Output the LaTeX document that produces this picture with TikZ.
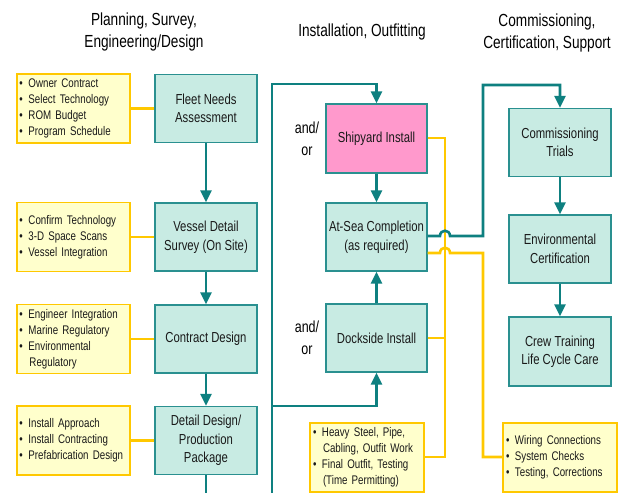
\documentclass[tikz,border=0pt]{standalone}
\usepackage{fontspec}
\setmainfont[FakeStretch=0.78]{Liberation Sans}
\usetikzlibrary{arrows.meta}
\definecolor{tealline}{HTML}{0E8080}
\definecolor{tealfill}{HTML}{C8EBE3}
\definecolor{tealborder}{HTML}{2A9090}
\definecolor{pinkfill}{HTML}{FF99CC}
\definecolor{yelfill}{HTML}{FFFFCC}
\definecolor{yelline}{HTML}{FFC800}
\newcommand{\bitem}[1]{\makebox[9pt][l]{\textbullet}#1}
\newcommand{\bcont}[1]{\hspace*{10pt}#1}
\tikzset{
  x=1pt,y=-1pt,
  stage/.style={draw=tealborder,line width=1.3pt,fill=tealfill,minimum width=102pt,minimum height=68pt,align=center,inner sep=2pt,font=\fontsize{14.5}{18.5}\selectfont,text=black!90},
  notebox/.style={draw=yelline,line width=1.3pt,fill=yelfill,minimum width=114pt,minimum height=69pt,text width=108pt,align=left,inner xsep=2pt,font=\fontsize{12.5}{16}\selectfont,text=black!90},
  flow/.style={draw=tealline,line width=2.6pt,-{Triangle[width=11pt,length=12pt]}},
  flowline/.style={draw=tealline,line width=2.6pt},
  yline/.style={draw=yelline,line width=2.6pt},
  header/.style={align=center,font=\fontsize{17.5}{22}\selectfont},
  andor/.style={align=center,font=\fontsize{16}{22}\selectfont}
}
\begin{document}
\begin{tikzpicture}
\useasboundingbox (0,0) rectangle (622,493);
% headers
\node[header] (h1) at (144,32) {Planning, Survey,\\Engineering/Design};
\node[header] (h2) at (362,32) {Installation, Outfitting};
\node[header] (h3) at (547,32.5) {Commissioning,\\Certification, Support};
% left column
\node[stage] (fleet) at (206,108.5) {Fleet Needs\\Assessment};
\node[stage] (vessel) at (206,237) {Vessel Detail\\Survey (On Site)};
\node[stage] (contract) at (206,339) {Contract Design};
\node[stage] (detail) at (206,440.5) {Detail Design/\\Production\\Package};
\node[notebox,minimum width=113pt] (n1) at (73.5,108.5) {\bitem{Owner Contract}\\\bitem{Select Technology}\\\bitem{ROM Budget}\\\bitem{Program Schedule}};
\node[notebox,minimum width=113pt] (n2) at (73.5,237) {\bitem{Confirm Technology}\\\bitem{3-D Space Scans}\\\bitem{Vessel Integration}};
\node[notebox,minimum width=113pt] (n3) at (73.5,339) {\bitem{Engineer Integration}\\\bitem{Marine Regulatory}\\\bitem{Environmental}\\\bcont{Regulatory}};
\node[notebox,minimum width=113pt] (n4) at (73.5,440.5) {\bitem{Install Approach}\\\bitem{Install Contracting}\\\bitem{Prefabrication Design}};
% middle column
\node[stage,fill=pinkfill,minimum width=101pt,minimum height=69pt] (ship) at (376.5,138.5) {Shipyard Install};
\node[stage,minimum width=101pt] (atsea) at (376.5,237) {At-Sea Completion\\(as required)};
\node[stage,minimum width=101pt] (dock) at (376.5,338) {Dockside Install};
\node[notebox] (heavy) at (367,457.5) {\bitem{Heavy Steel, Pipe,}\\\bcont{Cabling, Outfit Work}\\\bitem{Final Outfit, Testing}\\\bcont{(Time Permitting)}};
\node[andor] (ao1) at (307,139) {and/\\or};
\node[andor] (ao2) at (307,338) {and/\\or};
% right column
\node[stage] (comm) at (560,142.5) {Commissioning\\Trials};
\node[stage] (env) at (560,249) {Environmental\\Certification};
\node[stage,minimum height=69pt] (crew) at (560,351.5) {Crew Training\\Life Cycle Care};
\node[notebox] (wiring) at (560,457.5) {\bitem{Wiring Connections}\\\bitem{System Checks}\\\bitem{Testing, Corrections}};
% coordinates
\coordinate (loopbot) at (272,493);
\coordinate (looptop) at (272,84);
\coordinate (loopmid) at (272,406);
\coordinate (detailend) at (206,493);
\coordinate (ybus) at (445,138);
\coordinate (ybusbot) at (445,457);
% yellow connectors left
\draw[yline] (n1.east) -- (fleet.west);
\draw[yline] (n2.east) -- (vessel.west);
\draw[yline] (n3.east) -- (contract.west);
\draw[yline] (n4.east) -- (detail.west);
% yellow bus middle
\draw[yline] (ship.east |- 0,138) -- (ybus) -- (ybusbot) -- (heavy.east |- ybusbot);
\draw[yline] (dock.east) -- (445,338);
% yellow from at-sea to wiring
\draw[yline] (atsea.east |- 0,253) -- (440,253) .. controls (440,246) and (450,246) .. (450,253) -- (483,253) -- (483,457) -- (wiring.west |- 0,457);
% teal flow left
\draw[flow] (fleet) -- (vessel);
\draw[flow] (vessel) -- (contract);
\draw[flow] (contract) -- (detail);
\draw[flowline] (detail.south) -- (detailend);
% middle loops
\draw[flow] (loopbot) -- (looptop) -- (ship.north |- looptop) -- (ship.north);
\draw[flow] (loopmid) -- (dock.south |- loopmid) -- (dock.south);
\draw[flow] (ship) -- (atsea);
\draw[flow] (dock) -- (atsea);
% at-sea to commissioning
\draw[flow] (atsea.east |- 0,236) -- (440,236) .. controls (440,229) and (450,229) .. (450,236) -- (483,236) -- (483,85) -- (comm.north |- 0,85) -- (comm.north);
\draw[flow] (comm) -- (env);
\draw[flow] (env) -- (crew);
\end{tikzpicture}
\end{document}
